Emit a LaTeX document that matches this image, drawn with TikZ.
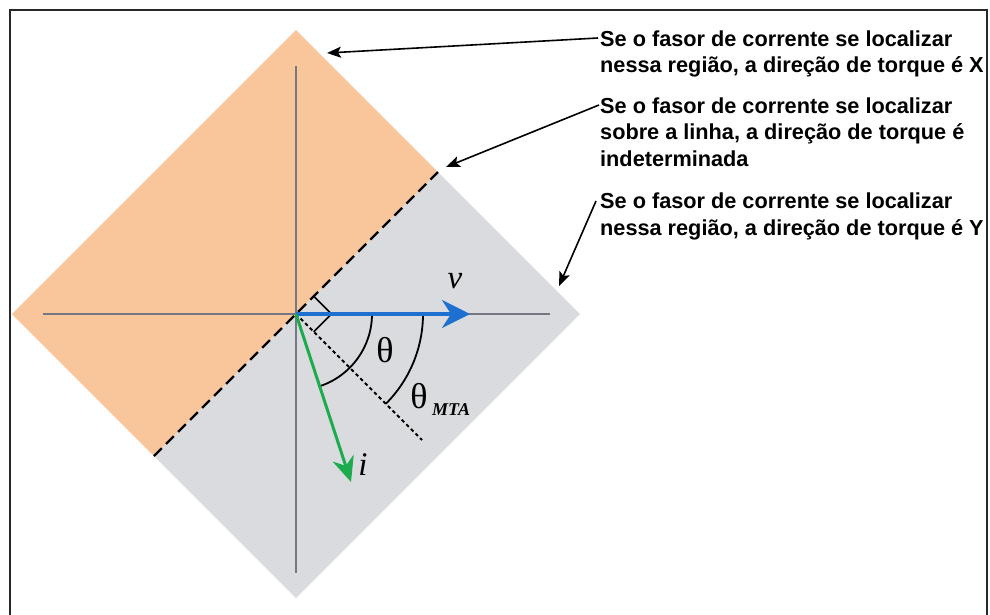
\documentclass[tikz,border=0pt]{standalone}
\usepackage{fontspec}
\setmainfont{Liberation Sans}
\newfontfamily\seriffont{Liberation Serif}
\usetikzlibrary{arrows.meta}
\definecolor{orangefill}{RGB}{249,197,155}
\definecolor{grayfill}{RGB}{218,219,222}
\definecolor{axisgray}{RGB}{115,120,130}
\definecolor{vblue}{RGB}{30,112,208}
\definecolor{igreen}{RGB}{28,172,78}
\definecolor{framecol}{RGB}{40,40,40}
\begin{document}
\begin{tikzpicture}[x=1pt,y=-1pt,
  frame/.style={draw=framecol,line width=2pt},
  axisline/.style={draw=axisgray,line width=1.4pt},
  note/.style={font=\bfseries\fontsize{21.7}{26.5}\selectfont,align=left,inner sep=0pt,anchor=base west},
  callout/.style={draw=black,line width=1.6pt,-{Stealth[length=14pt,width=11pt,inset=3pt]}},
  vecv/.style={draw=vblue,line width=4pt,-{Stealth[length=28pt,width=28pt,inset=9pt]}},
  veci/.style={draw=igreen,line width=3pt,-{Stealth[length=25pt,width=22pt,inset=8pt]}},
  boundary/.style={draw=black,line width=2.2pt,dash pattern=on 11pt off 6pt},
  mta/.style={draw=black,line width=2pt,dash pattern=on 3.5pt off 3pt},
  arcline/.style={draw=black,line width=1.8pt},
  vlabel/.style={font=\seriffont\itshape\fontsize{33}{34}\selectfont,inner sep=0pt},
  thlabel/.style={font=\seriffont\fontsize{36}{38}\selectfont,inner sep=0pt},
  sublabel/.style={font=\seriffont\bfseries\itshape\fontsize{18}{20}\selectfont,inner sep=0pt}
]
\useasboundingbox (0,0) rectangle (990,614);

% regions
\fill[orangefill] (296,30) -- (12,314) -- (154,456) -- (438,172) -- cycle;
\fill[grayfill] (438,172) -- (580,314) -- (296,598) -- (154,456) -- cycle;

% axes
\coordinate (O) at (296,314);
\coordinate (xl) at (43,314);
\coordinate (xr) at (550,314);
\coordinate (yt) at (296,66);
\coordinate (yb) at (296,573);
\draw[axisline] (xl) -- (xr);
\draw[axisline] (yt) -- (yb);

% boundary line and MTA line
\coordinate (bl) at (154,456);
\coordinate (bu) at (438,172);
\draw[boundary] (bl) -- (bu);
\coordinate (mtaend) at (422,440);
\draw[mta] (O) -- (mtaend);

% right angle marker
\draw[line width=1.6pt] (313.7,296.3) -- (331.4,314) -- (313.7,331.7);

% arcs
\draw[arcline] (372,314) arc[start angle=0,end angle=72,radius=76];
\draw[arcline] (423,314) arc[start angle=0,end angle=45,radius=127];

% vectors
\coordinate (vtip) at (470,314);
\coordinate (itip) at (351,482);
\draw[vecv] (O) -- (vtip);
\draw[veci] (O) -- (itip);

% labels
\node[vlabel] (lv) at (455,281) {v};
\node[vlabel] (li) at (363,465) {i};
\node[thlabel] (lth) at (385,350) {θ};
\node[thlabel] (lmta) at (419,396) {θ};
\node[sublabel,anchor=west] (lsub) at (432,410) {MTA};

% notes
\node[note] (t1) at (600,72.5) {Se o fasor de corrente se localizar\\nessa região, a direção de torque é X};
\node[note] (t2) at (600,166) {Se o fasor de corrente se localizar\\sobre a linha, a direção de torque é\\indeterminada};
\node[note] (t3) at (600,235) {Se o fasor de corrente se localizar\\nessa região, a direção de torque é Y};

% callouts
\coordinate (s1) at (598,38);
\coordinate (p1) at (327,53);
\coordinate (s2) at (599,105);
\coordinate (p2) at (446,167);
\coordinate (s3) at (596,201);
\coordinate (p3) at (559,286);
\draw[callout] (s1) -- (p1);
\draw[callout] (s2) -- (p2);
\draw[callout] (s3) -- (p3);

% frame
\draw[frame] (9.5,616) -- (9.5,10) -- (987,10) -- (987,616);
\end{tikzpicture}
\end{document}
